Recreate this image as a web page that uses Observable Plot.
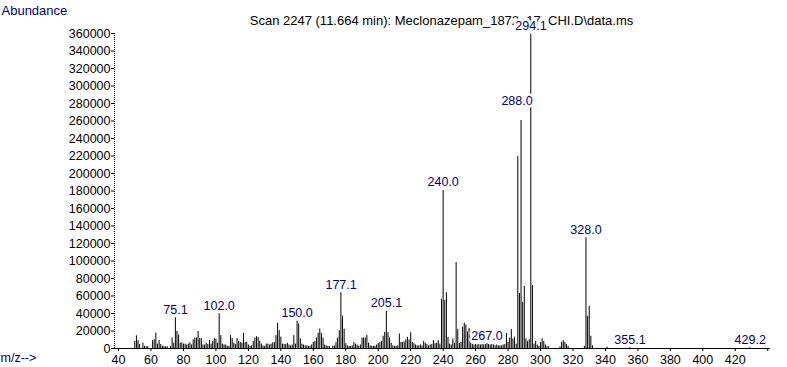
<!DOCTYPE html>
<html>
<head>
<meta charset="utf-8">
<script src="https://cdn.jsdelivr.net/npm/d3@7"></script>
<script src="https://cdn.jsdelivr.net/npm/@observablehq/plot@0.6"></script>
<style>
  html, body { margin: 0; padding: 0; background: #fff; }
  #chart { width: 787px; height: 367px; }
</style>
</head>
<body>
<div id="chart"></div>
<script>
// ---- data ----
const mz = [
  50,51,52,53,55,56,57,58,61,62,63,64,65,66,67,68,69,70,72,73,74,75,76,77,78,79,80,81,82,83,84,85,86,87,88,89,90,
  91,92,93,94,95,96,97,98,99,100,101,102,103,104,105,106,107,108,109,110,111,112,113,114,115,116,117,118,119,120,
  121,122,123,124,125,126,127,128,129,130,131,132,133,134,135,136,137,138,139,140,141,142,143,144,145,146,147,148,
  149,150,151,152,153,154,155,156,157,158,159,160,161,162,163,164,165,166,167,168,169,170,172,173,174,175,176,177,
  178,179,180,181,182,183,184,185,186,187,188,189,190,191,192,193,194,195,196,197,198,199,200,201,202,203,204,205,
  206,207,208,209,210,211,212,213,214,215,216,217,218,219,220,221,222,223,224,225,226,227,228,229,230,231,232,233,
  234,235,236,237,238,239,240,241,242,243,244,245,246,247,248,249,250,251,252,253,254,255,256,257,258,259,260,261,
  262,263,264,265,266,267,268,269,270,271,272,273,274,275,276,277,278,279,280,281,282,283,284,285,286,287,288,289,
  290,291,292,293,294,295,296,297,298,299,300,301,302,303,304,305,312,313,314,315,316,317,327,328,329,330,331,332,
  341,355,429
];
const abundance = [
  8000,14500,9000,4500,6000,2500,2000,2000,9000,10000,17500,5000,9000,4500,2500,2000,2000,2000,2500,12000,6000,35100,19500,15500,6000,6500,5000,5000,4000,5000,6500,4000,9800,12000,12000,19500,11500,
  11300,4000,4000,6000,4500,9000,5000,8000,11300,10700,6000,39700,14700,5000,4000,4000,2500,2500,14700,11300,6000,4500,11300,8000,7000,6000,17300,7000,7000,4000,
  2500,3000,8000,12000,13500,12500,8000,5000,3000,2500,5000,5000,4000,5000,6500,6700,14700,28800,20400,13000,5000,4500,4500,6000,4000,3000,4000,14700,
  5000,31200,28000,11000,5000,4000,3000,3000,2500,2500,4000,7000,8000,12000,17300,22300,17300,12000,4000,3000,2500,2000,2500,3000,6700,12000,20400,63700,
  36900,22000,5500,3000,2500,2500,3000,6700,5000,4000,2500,4000,12000,12000,12000,15000,6000,3000,2500,2500,2500,4000,5500,6700,8000,14000,18600,42600,
  18000,12000,6000,3000,2500,2500,3000,16600,7000,7000,7500,9800,12800,9800,18000,7000,5500,4000,3000,3000,4000,3000,7900,6000,4500,3000,4000,4500,
  9000,5500,6000,9000,5000,56000,180600,54900,63700,12800,5000,4000,10900,6000,98300,21500,6000,7000,24000,29000,27000,19000,23000,6000,4500,4000,4500,4000,
  4500,4000,4500,4000,4500,5500,4500,4000,4500,4000,3000,4000,3000,3000,3000,4000,4500,17300,7000,12000,21600,11000,13000,5000,219400,62900,260600,52600,
  70900,10900,8000,10000,359000,72000,5000,8000,4000,2500,7000,11000,8000,4000,2000,2000,2000,7000,9000,7000,4500,2500,2500,126500,36600,48300,14000,3000,
  1500,900,900
];
const labelMz = [75.1, 102.0, 150.0, 177.1, 205.1, 240.0, 267.0, 294.1, 328.0, 355.1, 429.2];
const shiftedLabelMz = [288.0];
const titleText = "Scan 2247 (11.664 min): Meclonazepam_1872_17_CHI.D\\data.ms";
const yLabel = "Abundance";
const xLabel = "m/z-->";
const yTicks = d3.range(0, 360001, 20000);
const xTicks = d3.range(40, 441, 20);

// ---- build tables ----
const peaks = mz.map((m, i) => ({mz: m, ab: abundance[i]}));
const peakAt = new Map(peaks.map(p => [p.mz, p.ab]));
const toLabels = arr => arr.map(v => ({mz: v, ab: peakAt.get(Math.round(v)) ?? 0, text: v.toFixed(1)}));
const labels = toLabels(labelMz);
const shiftedLabels = toLabels(shiftedLabelMz);

const NAVY = "#000080";
const FONT = "'Liberation Sans', Arial, sans-serif";

const chart = Plot.plot({
  width: 787,
  height: 367,
  marginLeft: 114,
  marginRight: 17,
  marginTop: 33,
  marginBottom: 19,
  style: {fontFamily: FONT, fontSize: "12.5px", color: "black", background: "white"},
  x: {domain: [37.5, 441.7]},
  y: {domain: [0, 360000]},
  marks: [
    Plot.text([titleText], {frameAnchor: "top", lineAnchor: "top", dx: -1, dy: -18, fontSize: 13, fill: "black"}),
    Plot.text([yLabel], {frameAnchor: "top-left", lineAnchor: "top", textAnchor: "start", dx: -113, dy: -28, fontSize: 13, fill: NAVY}),
    Plot.text([xLabel], {frameAnchor: "bottom-left", textAnchor: "start", dx: -114, dy: 13, fontSize: 12.5, fill: NAVY}),
    Plot.axisY({ticks: yTicks, tickSize: 3, tickPadding: 1, tickFormat: d3.format("d"), label: null, fill: "black"}),
    Plot.axisX({ticks: xTicks, tickSize: 3, tickPadding: 4, tickFormat: d => d === 440 ? "" : d, label: null, fill: "black"}),
    Plot.ruleX([37.5], {stroke: "black", strokeDasharray: "1,1"}),
    Plot.ruleY([0], {stroke: "black"}),
    Plot.ruleX(peaks, {x: "mz", y1: 0, y2: "ab", stroke: "black", strokeWidth: 1}),
    Plot.text(labels, {x: "mz", y: "ab", text: "text", dy: -8, fontSize: 12.5, fill: NAVY, stroke: "white", strokeWidth: 5}),
    Plot.text(shiftedLabels, {x: "mz", y: "ab", text: "text", dx: -4, dy: -19, fontSize: 12.5, fill: NAVY, stroke: "white", strokeWidth: 5})
  ]
});
document.getElementById("chart").appendChild(chart);
</script>
</body>
</html>
